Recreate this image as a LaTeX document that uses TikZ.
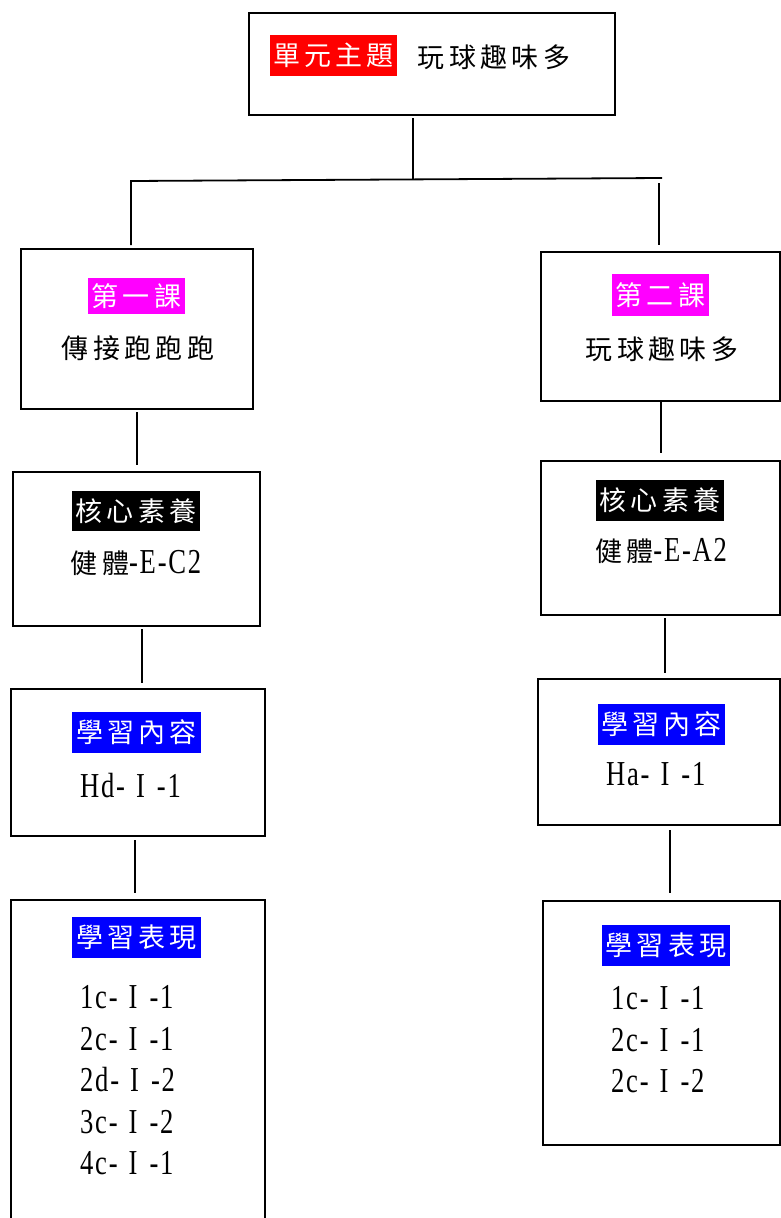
\documentclass[tikz,border=0pt]{standalone}
\usepackage{fontspec}
\setmainfont[FakeStretch=0.76, LetterSpace=5]{Liberation Serif}
\newfontfamily\cjk[LetterSpace=16]{Noto Sans CJK TC}
\definecolor{mag}{RGB}{255,0,255}
\definecolor{rd}{RGB}{255,0,0}
\definecolor{bl}{RGB}{0,0,255}
\newcommand{\ck}{\cjk\fontsize{27pt}{30pt}\selectfont}
\newcommand{\rn}{\hspace{11pt}I\hspace{12pt}}
\begin{document}
\begin{tikzpicture}[x=1pt,y=-1pt,
  box/.style={draw, line width=1.8pt, anchor=north west, inner sep=0pt},
  conn/.style={line width=1.8pt},
  lab/.style={fill=#1, text=white, inner sep=0pt, minimum height=41pt, font=\ck},
  txt/.style={inner sep=0pt, font=\fontsize{35pt}{41.5pt}\selectfont},
  ln/.style={txt, anchor=base west}]
\useasboundingbox (0,0) rectangle (780,1218);
% boxes
\node[box, minimum width=366pt, minimum height=102pt] (T)  at (248,12) {};
\node[box, minimum width=232pt, minimum height=160pt] (L1) at (20,248) {};
\node[box, minimum width=247pt, minimum height=154pt] (L2) at (12,471) {};
\node[box, minimum width=254pt, minimum height=147pt] (L3) at (10,688) {};
\node[box, minimum width=254pt, minimum height=330pt] (L4) at (10,899) {};
\node[box, minimum width=239pt, minimum height=149pt] (R1) at (540,251) {};
\node[box, minimum width=239pt, minimum height=154pt] (R2) at (540,460) {};
\node[box, minimum width=242pt, minimum height=146pt] (R3) at (537,678) {};
\node[box, minimum width=237pt, minimum height=244pt] (R4) at (542,900) {};
% texts
\node[lab=rd, minimum width=127pt] (Tl) at (333.5,55.5) {單元主題};
\node[inner sep=0pt, font=\ck] (Tt) at (494,57) {玩球趣味多};
\node[lab=mag, minimum width=97pt, minimum height=36pt] (L1l) at (136.5,296) {第一課};
\node[inner sep=0pt, font=\ck] (L1t) at (138,348) {傳接跑跑跑};
\node[lab=black, minimum width=128pt, minimum height=40pt] (L2l) at (136,511) {核心素養};
\node[txt, anchor=base] (L2t) at (136,573) {{\ck 健體}-E-C2};
\node[lab=bl, minimum width=129pt] (L3l) at (136.5,732.5) {學習內容};
\node[ln] (L3t) at (80,797) {Hd-\rn-1};
\node[lab=bl, minimum width=129pt] (L4l) at (136.5,937.5) {學習表現};
\node[ln] (L4a) at (80,1008) {1c-\rn-1};
\node[ln] (L4b) at (80,1050) {2c-\rn-1};
\node[ln] (L4c) at (80,1091) {2d-\rn-2};
\node[ln] (L4d) at (80,1133) {3c-\rn-2};
\node[ln] (L4e) at (80,1174) {4c-\rn-1};
\node[lab=mag, minimum width=97pt, minimum height=42pt] (R1l) at (660.5,295) {第二課};
\node[inner sep=0pt, font=\ck] (R1t) at (662,349) {玩球趣味多};
\node[lab=black, minimum width=128pt] (R2l) at (660,500.5) {核心素養};
\node[txt, anchor=base] (R2t) at (661,561) {{\ck 健體}-E-A2};
\node[lab=bl, minimum width=127pt] (R3l) at (661.5,724.5) {學習內容};
\node[ln] (R3t) at (606,785) {Ha-\rn-1};
\node[lab=bl, minimum width=128pt] (R4l) at (666,945.5) {學習表現};
\node[ln] (R4a) at (611,1009) {1c-\rn-1};
\node[ln] (R4b) at (611,1051) {2c-\rn-1};
\node[ln] (R4c) at (611,1092) {2c-\rn-2};
% connector points
\coordinate (t0) at (413,118);
\coordinate (t1) at (413,179.5);
\coordinate (hl) at (131,181);
\coordinate (hr) at (662,178);
\coordinate (dl) at (131,245);
\coordinate (rr0) at (659,183);
\coordinate (rr1) at (659,245);
\coordinate (a0) at (137,412); \coordinate (a1) at (137,465);
\coordinate (b0) at (142,629); \coordinate (b1) at (142,683);
\coordinate (c0) at (135,840); \coordinate (c1) at (135,893);
\coordinate (d0) at (661,402); \coordinate (d1) at (661,453);
\coordinate (e0) at (665,618); \coordinate (e1) at (665,673);
\coordinate (f0) at (670,830); \coordinate (f1) at (670,893);
\draw[conn] (t0) -- (t1);
\draw[conn] (dl) -- (hl) -- (hr);
\draw[conn] (rr0) -- (rr1);
\draw[conn] (a0) -- (a1);
\draw[conn] (b0) -- (b1);
\draw[conn] (c0) -- (c1);
\draw[conn] (d0) -- (d1);
\draw[conn] (e0) -- (e1);
\draw[conn] (f0) -- (f1);
\end{tikzpicture}
\end{document}
